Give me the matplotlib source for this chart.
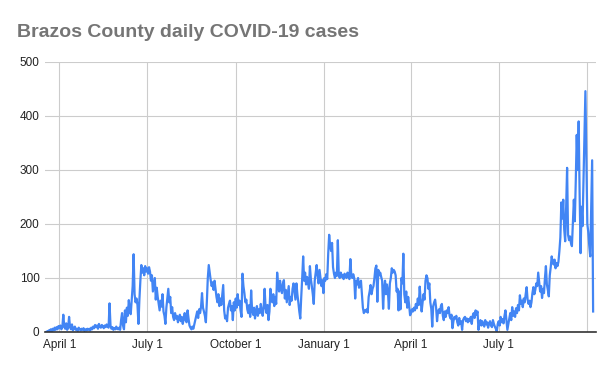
import numpy as np
import matplotlib.pyplot as plt

# daily new cases, one list per month, starting March 18, 2020
mar20 = [0, 1, 0, 3, 2, 5, 1, 6, 3, 8, 4, 9, 5, 11]
apr20 = [7, 12, 5, 9, 32, 10, 6, 16, 4, 8, 28, 9, 5, 14, 3, 7, 10, 4, 6, 2,
         8, 5, 3, 6, 4, 7, 2, 5, 3, 6]
may20 = [4, 6, 3, 8, 5, 10, 7, 13, 9, 12, 6, 15, 10, 8, 13, 11, 7, 12, 9, 14,
         10, 8, 53, 12, 6, 9, 4, 7, 5, 10, 6]
jun20 = [5, 8, 4, 22, 35, 12, 5, 40, 18, 45, 30, 59, 42, 33, 60, 85, 144, 70, 55, 62,
         50, 15, 60, 95, 124, 110, 118, 105, 122, 112]
jul20 = [118, 108, 120, 112, 95, 105, 75, 88, 100, 60, 82, 65, 52, 40, 58, 47, 70, 38, 30, 15,
         45, 62, 80, 55, 65, 35, 46, 28, 22, 35, 25]
aug20 = [30, 18, 26, 32, 20, 28, 15, 24, 35, 22, 18, 40, 25, 12, 8, 5, 10, 6, 14, 22,
         30, 38, 26, 42, 35, 47, 72, 45, 38, 30, 18]
sep20 = [55, 100, 124, 110, 96, 85, 92, 78, 95, 80, 65, 55, 70, 48, 62, 50, 68, 87, 40, 25,
         30, 20, 45, 52, 58, 40, 48, 22, 55, 40]
oct20 = [62, 45, 70, 50, 58, 40, 28, 108, 85, 72, 55, 60, 42, 35, 50, 28, 77, 40, 32, 45,
         25, 38, 48, 30, 42, 35, 52, 40, 30, 46, 80]
nov20 = [45, 35, 50, 22, 38, 80, 62, 55, 70, 48, 65, 52, 110, 88, 75, 95, 80, 72, 90, 96,
         62, 78, 55, 70, 85, 50, 65, 58, 80, 90]
dec20 = [75, 60, 90, 70, 55, 38, 25, 65, 100, 140, 95, 110, 88, 102, 92, 80, 122, 98, 85, 70,
         52, 95, 110, 124, 105, 90, 115, 100, 85, 96, 72]
jan21 = [100, 95, 107, 98, 145, 180, 160, 150, 165, 120, 108, 100, 110, 104, 170, 105, 100, 110, 102, 106,
         98, 108, 103, 100, 110, 105, 98, 135, 104, 100, 107]
feb21 = [100, 62, 95, 88, 100, 82, 90, 95, 70, 45, 35, 40, 38, 42, 36, 65, 75, 87, 70, 80,
         85, 100, 118, 123, 56, 115, 105, 110]
mar21 = [102, 95, 43, 80, 95, 70, 88, 75, 43, 90, 100, 118, 110, 115, 112, 105, 75, 80, 40, 75,
         42, 100, 90, 145, 70, 55, 75, 45, 65, 50, 31]
apr21 = [35, 42, 38, 45, 40, 52, 44, 62, 50, 84, 58, 38, 55, 70, 60, 95, 105, 100, 80, 90,
         55, 43, 10, 48, 55, 60, 45, 20, 38, 42]
may21 = [35, 48, 52, 30, 22, 38, 28, 40, 35, 46, 30, 25, 32, 7, 20, 28, 25, 30, 18, 12,
         26, 15, 20, 4, 22, 26, 28, 20, 25, 18, 24]
jun21 = [20, 28, 15, 30, 35, 26, 40, 32, 38, 4, 18, 22, 12, 20, 15, 10, 22, 14, 18, 8,
         16, 20, 12, 9, 22, 15, 10, 6, 1, 15]
jul21 = [20, 12, 28, 18, 24, 16, 30, 40, 22, 4, 15, 25, 35, 22, 46, 30, 38, 28, 44, 35,
         50, 40, 68, 52, 58, 46, 62, 55, 70, 83, 60]
aug21 = [52, 58, 46, 55, 72, 83, 70, 78, 90, 85, 110, 92, 75, 85, 63, 80, 72, 100, 122, 88,
         78, 66, 105, 120, 140, 130, 125, 134, 118, 128, 122]
sep21 = [130, 150, 175, 240, 210, 245, 190, 168, 230, 304, 180, 170, 177, 165, 159, 200, 245, 205, 280, 365,
         300, 390, 257, 146, 232, 196, 280, 360, 446, 320]
oct21 = [200, 185, 160, 140, 230, 318, 38]

cases = (mar20 + apr20 + may20 + jun20 + jul20 + aug20 + sep20 + oct20 + nov20 + dec20
         + jan21 + feb21 + mar21 + apr21 + may21 + jun21 + jul21 + aug21 + sep21 + oct21)

start = np.datetime64("2020-03-18")
dates = start + np.arange(len(cases))

tick_dates = np.array(["2020-04-01", "2020-07-01", "2020-10-01", "2021-01-01",
                       "2021-04-01", "2021-07-01", "2021-10-01"], dtype="datetime64[D]")
tick_labels = ["April 1", "July 1", "October 1", "January 1", "April 1", "July 1", ""]

plt.rcParams["font.family"] = ["Liberation Sans", "DejaVu Sans"]

fig = plt.figure(figsize=(6.13, 3.71), dpi=100)
ax = fig.add_axes([45 / 613, 39 / 371, 551 / 613, 270 / 371])

ax.plot(dates, cases, color="#4285f4", lw=1.6, zorder=3)

ax.set_xlim(np.datetime64("2020-03-17"), np.datetime64("2021-10-10"))
ax.set_ylim(0, 500)
ax.set_yticks(range(0, 501, 100))
ax.set_xticks(tick_dates)
ax.set_xticklabels(tick_labels)

ax.grid(True, color="#cccccc", lw=0.8)
ax.set_axisbelow(True)
for side in ["top", "right", "left"]:
    ax.spines[side].set_visible(False)
ax.spines["bottom"].set_color("#333333")
ax.spines["bottom"].set_linewidth(1.2)
ax.spines["bottom"].set_zorder(4)
ax.tick_params(length=0, labelsize=8.5, labelcolor="#222222")
ax.tick_params(axis="x", pad=5)
ax.tick_params(axis="y", pad=4)

fig.text(17 / 613, 1 - 37 / 371, "Brazos County daily COVID-19 cases",
         fontsize=14, fontweight="bold", color="#757575", va="baseline")

fig.savefig("out.png", dpi=100)
